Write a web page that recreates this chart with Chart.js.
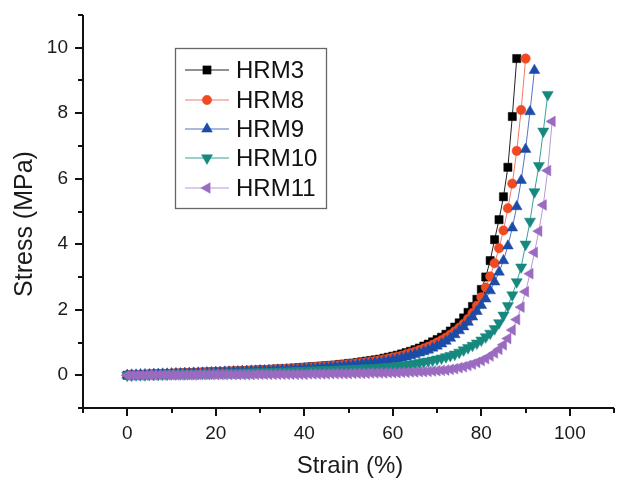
<!DOCTYPE html>
<html><head><meta charset="utf-8">
<script src="https://cdn.jsdelivr.net/npm/chart.js@4/dist/chart.umd.min.js"></script>
<style>html,body{margin:0;padding:0;background:#fff;}#wrap{width:621px;height:481px;}</style>
</head><body><div id="wrap"><canvas id="c" width="621" height="481"></canvas></div>
<script>
const strain = [0,1,2,3,4,5,6,7,8,9,10,11,12,13,14,15,16,17,18,19,20,21,22,23,24,25,26,27,28,29,30,31,32,33,34,35,36,37,38,39,40,41,42,43,44,45,46,47,48,49,50,51,52,53,54,55,56,57,58,59,60,61,62,63,64,65,66,67,68,69,70,71,72,73,74,75,76,77,78,79,80,81,82,83,84,85,86,87,88,89,90,91,92,93,94,95,96];
const hrm3 = [0.00,0.01,0.01,0.02,0.02,0.03,0.03,0.04,0.04,0.05,
 0.05,0.06,0.06,0.07,0.07,0.08,0.08,0.09,0.09,0.10,
 0.10,0.11,0.11,0.12,0.12,0.13,0.13,0.14,0.15,0.15,
 0.16,0.17,0.17,0.18,0.19,0.19,0.20,0.21,0.22,0.23,
 0.24,0.25,0.26,0.27,0.28,0.29,0.30,0.31,0.33,0.34,
 0.36,0.37,0.39,0.41,0.43,0.45,0.47,0.49,0.52,0.55,
 0.58,0.61,0.65,0.69,0.73,0.78,0.83,0.89,0.95,1.02,
 1.09,1.16,1.25,1.35,1.47,1.60,1.75,1.92,2.10,2.32,
 2.62,3.00,3.50,4.14,4.75,5.45,6.35,7.90,9.67];
const hrm8 = [0.00,0.01,0.01,0.02,0.02,0.03,0.03,0.04,0.04,0.05,
 0.05,0.06,0.06,0.07,0.07,0.08,0.08,0.09,0.09,0.10,
 0.10,0.11,0.11,0.12,0.12,0.13,0.13,0.14,0.14,0.15,
 0.16,0.16,0.17,0.18,0.18,0.19,0.20,0.20,0.21,0.22,
 0.23,0.24,0.25,0.26,0.27,0.28,0.29,0.30,0.31,0.32,
 0.34,0.35,0.37,0.38,0.40,0.42,0.44,0.46,0.48,0.51,
 0.54,0.57,0.60,0.64,0.68,0.72,0.77,0.82,0.87,0.93,
 1.00,1.07,1.15,1.24,1.34,1.45,1.57,1.72,1.90,2.12,
 2.38,2.68,3.02,3.42,3.88,4.42,5.10,5.85,6.85,8.10,
 9.67];
const hrm9 = [0.00,0.01,0.01,0.02,0.02,0.02,0.03,0.03,0.04,0.04,
 0.05,0.05,0.05,0.06,0.06,0.07,0.07,0.07,0.08,0.08,
 0.09,0.09,0.10,0.10,0.11,0.11,0.12,0.12,0.13,0.13,
 0.14,0.14,0.15,0.15,0.16,0.16,0.17,0.18,0.18,0.19,
 0.20,0.21,0.21,0.22,0.23,0.24,0.25,0.26,0.27,0.28,
 0.30,0.31,0.32,0.34,0.35,0.37,0.38,0.40,0.42,0.44,
 0.47,0.50,0.53,0.56,0.60,0.64,0.68,0.72,0.77,0.83,
 0.89,0.96,1.04,1.13,1.24,1.36,1.48,1.62,1.78,1.95,
 2.13,2.33,2.58,2.85,3.15,3.50,3.95,4.50,5.15,5.95,
 6.90,8.05,9.31];
const hrm10 = [0.00,0.00,0.01,0.01,0.01,0.02,0.02,0.02,0.03,0.03,
 0.04,0.04,0.04,0.04,0.05,0.05,0.05,0.06,0.06,0.06,
 0.07,0.07,0.07,0.08,0.08,0.08,0.09,0.09,0.09,0.10,
 0.10,0.10,0.11,0.11,0.12,0.12,0.12,0.13,0.13,0.14,
 0.14,0.15,0.15,0.16,0.16,0.17,0.17,0.18,0.18,0.19,
 0.19,0.20,0.20,0.21,0.22,0.22,0.23,0.24,0.25,0.26,
 0.27,0.29,0.30,0.32,0.34,0.36,0.38,0.41,0.43,0.46,
 0.49,0.52,0.56,0.60,0.64,0.70,0.77,0.84,0.91,0.98,
 1.07,1.17,1.28,1.42,1.60,1.83,2.12,2.45,2.85,3.30,
 4.00,4.70,5.60,6.40,7.45,8.57];
const hrm11 = [0.00,0.00,0.00,0.00,0.00,0.01,0.01,0.01,0.01,0.01,
 0.01,0.01,0.01,0.01,0.01,0.01,0.02,0.02,0.02,0.02,
 0.02,0.02,0.02,0.02,0.02,0.02,0.02,0.02,0.02,0.03,
 0.03,0.03,0.03,0.03,0.03,0.03,0.03,0.03,0.03,0.03,
 0.03,0.04,0.04,0.04,0.04,0.04,0.05,0.05,0.05,0.05,
 0.05,0.06,0.06,0.06,0.06,0.07,0.07,0.07,0.07,0.08,
 0.08,0.08,0.09,0.09,0.10,0.10,0.11,0.11,0.12,0.13,
 0.14,0.15,0.16,0.18,0.20,0.23,0.26,0.30,0.34,0.39,
 0.45,0.51,0.59,0.68,0.79,0.93,1.12,1.38,1.70,2.08,
 2.55,3.10,3.75,4.40,5.20,6.25,7.75];
const seriesNames = ['HRM3','HRM8','HRM9','HRM10','HRM11'];
const xTickLabels = [0,20,40,60,80,100];
const yTickLabels = [0,2,4,6,8,10];
const xTitle = 'Strain (%)';
const yTitle = 'Stress (MPa)';

const FONT = '"Liberation Sans", Arial, sans-serif';
const styles = [
  {line:'#222222', fill:'#000000', shape:'rect', r:5.8, rot:0},
  {line:'#f07a66', fill:'#f04a22', shape:'circle', r:4.7, rot:0},
  {line:'#5573c8', fill:'#1b4ca8', shape:'triangle', r:6.2, rot:0},
  {line:'#38a096', fill:'#17887e', shape:'triangle', r:6.4, rot:180},
  {line:'#b89ad6', fill:'#9a6bc0', shape:'triangle', r:6.2, rot:270}
];
const values = [hrm3, hrm8, hrm9, hrm10, hrm11];
const datasets = values.map((arr, k) => ({
  label: seriesNames[k],
  data: arr.map((v, i) => ({x: strain[i], y: v})),
  showLine: true,
  borderColor: styles[k].line,
  borderWidth: 1,
  pointStyle: styles[k].shape,
  pointRotation: styles[k].rot,
  pointRadius: styles[k].r,
  pointBackgroundColor: styles[k].fill,
  pointBorderColor: styles[k].fill,
  pointBorderWidth: 0.5,
  tension: 0,
  order: 5 - k
}));

const axesPlugin = {
  id: 'axesPlugin',
  afterDraw(chart) {
    const {ctx, chartArea: ca, scales: {x, y}} = chart;
    ctx.save();
    ctx.strokeStyle = '#111';
    ctx.lineWidth = 2;
    ctx.beginPath();
    ctx.moveTo(ca.left, ca.top);
    ctx.lineTo(ca.left, ca.bottom);
    ctx.lineTo(ca.right, ca.bottom);
    ctx.stroke();
    ctx.beginPath();
    x.ticks.forEach(t => {
      const px = Math.round(x.getPixelForValue(t.value));
      const len = (t.value % 20 === 0) ? 8 : 5;
      ctx.moveTo(px, ca.bottom); ctx.lineTo(px, ca.bottom + len);
    });
    y.ticks.forEach(t => {
      const py = Math.round(y.getPixelForValue(t.value));
      const len = (t.value % 2 === 0) ? 8 : 5;
      ctx.moveTo(ca.left, py); ctx.lineTo(ca.left - len, py);
    });
    ctx.stroke();
    ctx.fillStyle = '#1a1a1a';
    ctx.font = '24px ' + FONT;
    ctx.textAlign = 'center';
    ctx.textBaseline = 'middle';
    ctx.fillText(xTitle, 350, 466);
    ctx.save();
    ctx.translate(25, 224);
    ctx.rotate(-Math.PI / 2);
    ctx.font = '25px ' + FONT;
    ctx.fillText(yTitle, 0, 0);
    ctx.restore();
    ctx.restore();
  }
};

const legendPlugin = {
  id: 'boxLegend',
  afterDraw(chart) {
    const ctx = chart.ctx;
    ctx.save();
    ctx.strokeStyle = '#666';
    ctx.lineWidth = 1.3;
    ctx.strokeRect(175.5, 48.5, 151, 160);
    const rows = [70, 100, 129, 158, 188];
    chart.data.datasets.forEach((ds, k) => {
      const yy = rows[k];
      ctx.strokeStyle = ds.borderColor;
      ctx.lineWidth = 1;
      ctx.beginPath(); ctx.moveTo(185, yy); ctx.lineTo(229, yy); ctx.stroke();
      ctx.fillStyle = ds.pointBackgroundColor;
      ctx.strokeStyle = ds.pointBorderColor;
      ctx.lineWidth = 0.5;
      Chart.helpers.drawPoint(ctx, {pointStyle: ds.pointStyle, rotation: ds.pointRotation, radius: ds.pointRadius, borderWidth: 0.5}, 207, yy);
      ctx.fillStyle = '#111';
      ctx.font = '24px ' + FONT;
      ctx.textBaseline = 'middle';
      ctx.textAlign = 'left';
      ctx.fillText(ds.label, 236, yy + 1);
    });
    ctx.restore();
  }
};

new Chart(document.getElementById('c'), {
  type: 'scatter',
  data: {datasets},
  plugins: [axesPlugin, legendPlugin],
  options: {
    responsive: false,
    animation: false,
    events: [],
    layout: {padding: {top: 15, right: 0, left: 0, bottom: 0}},
    plugins: {legend: {display: false}, tooltip: {enabled: false}},
    scales: {
      x: {
        type: 'linear', min: -10, max: 110,
        grid: {display: false, drawTicks: false},
        border: {display: false},
        ticks: {stepSize: 10, autoSkip: false, maxRotation: 0, padding: 14, color: '#1a1a1a',
          font: {family: FONT, size: 19},
          callback: v => xTickLabels.includes(v) ? String(v) : ''},
        title: {display: false},
        afterFit: s => { s.height = 73; s.paddingLeft = 0; s.paddingRight = 0; }
      },
      y: {
        type: 'linear', min: -1, max: 11,
        grid: {display: false, drawTicks: false},
        border: {display: false},
        ticks: {stepSize: 1, autoSkip: false, padding: 15, color: '#1a1a1a',
          font: {family: FONT, size: 19},
          callback: v => yTickLabels.includes(v) ? String(v) : ''},
        title: {display: false},
        afterFit: s => { s.width = 83; s.paddingTop = 0; s.paddingBottom = 0; }
      }
    }
  }
});
</script>
</body></html>
